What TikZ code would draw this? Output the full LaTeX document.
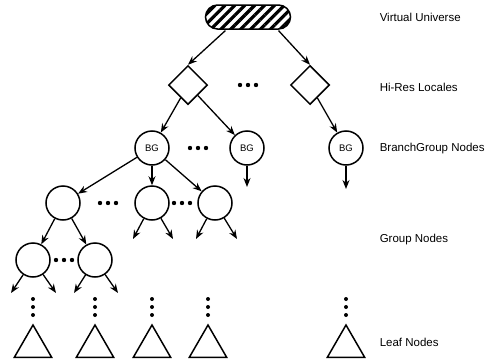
\documentclass[tikz,border=0pt]{standalone}
\usepackage{fontspec}
\setmainfont{Liberation Sans}
\usetikzlibrary{arrows.meta,shapes.geometric,patterns.meta}

\begin{document}
\begin{tikzpicture}[x=1pt,y=-1pt,line width=1.5pt,
  univ/.style={draw,rounded corners=12pt,minimum width=85pt,minimum height=24pt,inner sep=0pt,pattern={Lines[angle=45,distance=7pt,line width=3.2pt]}},
  locale/.style={draw,diamond,minimum size=39pt,inner sep=0pt},
  bgnode/.style={draw,circle,minimum size=34pt,inner sep=0pt,font=\fontsize{9.5}{9.5}\selectfont},
  gnode/.style={draw,circle,minimum size=34pt,inner sep=0pt},
  leaf/.style={draw,regular polygon,regular polygon sides=3,minimum size=43pt,inner sep=0pt},
  link/.style={line width=1.3pt,-{Stealth[length=9pt,width=7pt]}},
  lbl/.style={anchor=west,inner sep=0pt,font=\fontsize{11.5}{13}\selectfont}]
\useasboundingbox (0,0) rectangle (488,359);
% tree
\node[univ] (vu) at (248,17) {};
\node[locale] (hr1) at (188,85) {};
\node[locale] (hr2) at (310,85) {};
\node[bgnode] (bg1) at (152,148) {BG};
\node[bgnode] (bg2) at (247,148) {BG};
\node[bgnode] (bg3) at (346,148) {BG};
\foreach \n/\x/\y in {g1/63/203,g2/152/203,g3/215/203,g4/33/260,g5/95/260} {\node[gnode] (\n) at (\x,\y) {};}
\foreach \n/\x in {lf1/33,lf2/95,lf3/152,lf4/208,lf5/346} {\node[leaf] (\n) at (\x,346.5) {};}
\foreach \n/\x/\y in {e1/247/187,e2/346/189,e3/133/239,e4/173/239,e5/196/239,e6/237/239,e7/11/293,e8/56/293,e9/74/293,e10/118/293} {\coordinate (\n) at (\x,\y);}
\draw[link] (vu.211) -- (hr1.north);
\draw[link] (vu.336) -- (hr2.north);
\draw[link] (hr1) -- (bg1);
\draw[link] (hr1) -- (bg2);
\draw[link] (hr2) -- (bg3);
\draw[link] (bg2) -- (e1);
\draw[link] (bg3) -- (e2);
\foreach \t in {g1,g2,g3} {\draw[link] (bg1) -- (\t);}
\draw[link] (g1) -- (g4);
\draw[link] (g1) -- (g5);
\foreach \s/\a/\b in {g2/e3/e4,g3/e5/e6,g4/e7/e8,g5/e9/e10} {\draw[link] (\s) -- (\a); \draw[link] (\s) -- (\b);}
% ellipses
\foreach \x/\y in {248/85,198/148,108/203,182/203,64/260} {\foreach \d in {-8,0,8} {\fill (\x+\d,\y) circle (2.2);}}
\foreach \x in {33,95,152,208,346} {\foreach \y in {299,307,315} {\fill (\x,\y) circle (2);}}
% levels
\node[lbl] (t1) at (379,17) {Virtual Universe};
\node[lbl] (t2) at (379,87) {Hi-Res Locales};
\node[lbl] (t3) at (379,149) {BranchGroup Nodes};
\node[lbl] (t4) at (379,240) {Group Nodes};
\node[lbl] (t5) at (379,342) {Leaf Nodes};
\end{tikzpicture}
\end{document}
